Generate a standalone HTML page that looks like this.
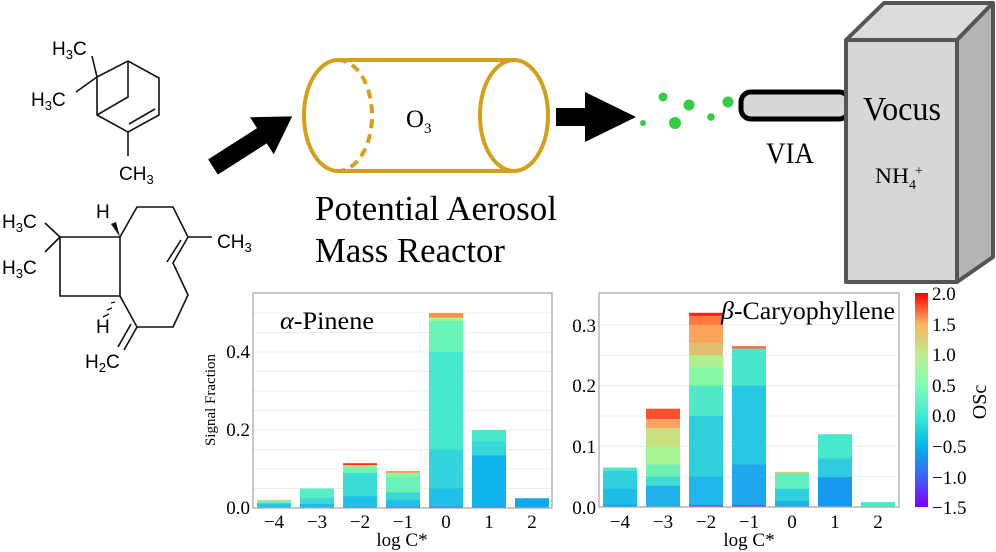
<!DOCTYPE html>
<html><head><meta charset="utf-8"><style>
html,body{margin:0;padding:0;background:#fff;width:996px;height:552px;overflow:hidden}
svg{display:block}
.m{font-family:"Liberation Sans",sans-serif;font-size:19px;fill:#000}
.t{font-family:"Liberation Serif",serif;fill:#000}
</style></head><body>
<svg width="996" height="552" viewBox="0 0 996 552" xmlns="http://www.w3.org/2000/svg">
<defs><linearGradient id="cb" x1="0" y1="1" x2="0" y2="0">
<stop offset="0" stop-color="#8000ff"/><stop offset="0.143" stop-color="#4062fa"/><stop offset="0.286" stop-color="#00b5eb"/>
<stop offset="0.429" stop-color="#40ecd4"/><stop offset="0.571" stop-color="#80ffb4"/><stop offset="0.714" stop-color="#c0eb8d"/>
<stop offset="0.857" stop-color="#ffb360"/><stop offset="1" stop-color="#ff0000"/></linearGradient></defs>
<g stroke="#111" stroke-width="1.6" fill="none">
<path d="M97,77 L128,61 L159,78 L159,115 L128,132 L97,115 Z"/>
<path d="M128,61 L128,97 L97,115"/>
<path d="M155,109 L129,124"/>
<path d="M128,132 L128,156"/>
<path d="M97,77 L92,56"/>
<path d="M97,77 L76,92"/>
</g>
<text class="m" x="52" y="55">H<tspan font-size="13" dy="4">3</tspan><tspan dy="-4">C</tspan></text>
<text class="m" x="31" y="106">H<tspan font-size="13" dy="4">3</tspan><tspan dy="-4">C</tspan></text>
<text class="m" x="119" y="180">CH<tspan font-size="13" dy="4">3</tspan></text>
<g stroke="#111" stroke-width="1.6" fill="none">
<path d="M60,237 L120,237 L120,296 L60,296 Z"/>
<path d="M60,237 L45,223 M60,237 L45,252"/>
<path d="M120,237 L137,207 L173,207 L188,237 L173,263 L188,295 L173,327 L137,327 L120,296"/>
<path d="M181,240 L167,262"/>
<path d="M188,237 L212,237"/>
<path d="M137,327 L124,350 M131,324 L118,347"/>
<path d="M115,302 L111,303 M112,308 L107,310 M109,314 L103,317" stroke-width="1.3"/>
</g>
<polygon points="120,237 111,224 116,222" fill="#111"/>
<text class="m" x="2" y="228">H<tspan font-size="13" dy="4">3</tspan><tspan dy="-4">C</tspan></text>
<text class="m" x="2" y="274">H<tspan font-size="13" dy="4">3</tspan><tspan dy="-4">C</tspan></text>
<text class="m" x="96" y="218">H</text>
<text class="m" x="96" y="333">H</text>
<text class="m" x="217" y="248">CH<tspan font-size="13" dy="4">3</tspan></text>
<text class="m" x="85" y="368">H<tspan font-size="13" dy="4">2</tspan><tspan dy="-4">C</tspan></text>
<g transform="translate(213,167) rotate(-32.6)">
<polygon points="0,-9 58,-9 58,-22 94,0 58,22 58,9 0,9" fill="#000"/>
</g>
<g stroke="#d4a017" stroke-width="4" fill="none">
<path d="M338,60 L514,60 M338,171 L514,171"/>
<path d="M338,60 A34,55.5 0 0 0 338,171"/>
<path d="M338,60 A34,55.5 0 0 1 338,171" stroke-dasharray="9,6"/>
<ellipse cx="514" cy="115.5" rx="34" ry="55.5"/>
</g>
<text class="t" x="406" y="127" font-size="25" textLength="18" lengthAdjust="spacingAndGlyphs">O</text>
<text class="t" x="424" y="133" font-size="15">3</text>
<text class="t" x="315" y="220" font-size="35" textLength="242" lengthAdjust="spacingAndGlyphs">Potential Aerosol</text>
<text class="t" x="315" y="262" font-size="35" textLength="190" lengthAdjust="spacingAndGlyphs">Mass Reactor</text>
<polygon points="556,108 585,108 585,92 636,117 585,142 585,126 556,126" fill="#000"/>
<g fill="#33cc44">
<circle cx="663" cy="97" r="4.5"/><circle cx="689" cy="105" r="5.5"/><circle cx="728" cy="102" r="5.5"/>
<circle cx="711" cy="117" r="3.8"/><circle cx="675" cy="123" r="6"/><circle cx="643" cy="123" r="3"/>
</g>
<rect x="741" y="92" width="108" height="27" rx="10" fill="#d8d8d8" stroke="#000" stroke-width="5"/>
<text class="t" x="766" y="163" font-size="30" textLength="48" lengthAdjust="spacingAndGlyphs">VIA</text>
<g stroke="#555" stroke-width="4" stroke-linejoin="round">
<polygon points="846,40 884,3 993,3 957,40" fill="#dcdcdc"/>
<polygon points="957,40 993,3 993,257 957,282" fill="#b5b5b5"/>
<rect x="846" y="40" width="111" height="242" fill="#d8d8d8"/>
</g>
<text class="t" x="863" y="120" font-size="34" textLength="78" lengthAdjust="spacingAndGlyphs">Vocus</text>
<text class="t" x="875" y="183" font-size="22" textLength="34" lengthAdjust="spacingAndGlyphs">NH</text>
<text class="t" x="909" y="189" font-size="14">4</text>
<text class="t" x="915" y="175" font-size="14">+</text>

<!-- LEFT CHART -->
<g stroke="#ececec" stroke-width="1">
<line x1="253" x2="552" y1="488.5" y2="488.5"/><line x1="253" x2="552" y1="469" y2="469"/><line x1="253" x2="552" y1="449.5" y2="449.5"/>
<line x1="253" x2="552" y1="430" y2="430"/><line x1="253" x2="552" y1="410.5" y2="410.5"/><line x1="253" x2="552" y1="391" y2="391"/>
<line x1="253" x2="552" y1="371.5" y2="371.5"/><line x1="253" x2="552" y1="352" y2="352"/><line x1="253" x2="552" y1="332.5" y2="332.5"/>
<line x1="253" x2="552" y1="313" y2="313"/>
</g>
<g>
<rect x="257" y="499.8" width="34" height="8.2" fill="#d4d88a"/>
<rect x="257" y="501" width="34" height="7" fill="#6af5b8"/>
<rect x="257" y="503.3" width="34" height="4.7" fill="#29c5e6"/>
<rect x="300" y="488.5" width="34" height="19.5" fill="#58eec4"/>
<rect x="300" y="498.2" width="34" height="9.8" fill="#3ad8dc"/>
<rect x="300" y="504.1" width="34" height="3.9" fill="#1fb8e8"/>
<rect x="343" y="463.2" width="34" height="44.8" fill="#ff3020"/>
<rect x="343" y="465.1" width="34" height="42.9" fill="#c0e890"/>
<rect x="343" y="467" width="34" height="41" fill="#70f6b0"/>
<rect x="343" y="472.9" width="34" height="35.1" fill="#3cdcd6"/>
<rect x="343" y="496.3" width="34" height="11.7" fill="#20c0ea"/>
<rect x="343" y="506.8" width="34" height="1.2" fill="#12a0f0"/>
<rect x="386" y="471" width="34" height="37" fill="#f0a060"/>
<rect x="386" y="472.9" width="34" height="35.1" fill="#8af8a0"/>
<rect x="386" y="476.8" width="34" height="31.2" fill="#6af2b8"/>
<rect x="386" y="492.4" width="34" height="15.6" fill="#38d8d8"/>
<rect x="386" y="500.2" width="34" height="7.8" fill="#20c0ea"/>
<rect x="386" y="506.8" width="34" height="1.2" fill="#5050f0"/>
<rect x="429" y="313" width="34" height="195" fill="#ff9050"/>
<rect x="429" y="317.7" width="34" height="190.3" fill="#a8f890"/>
<rect x="429" y="320.8" width="34" height="187.2" fill="#6af5b8"/>
<rect x="429" y="352" width="34" height="156" fill="#48e8cc"/>
<rect x="429" y="449.5" width="34" height="58.5" fill="#34d4dc"/>
<rect x="429" y="488.5" width="34" height="19.5" fill="#20c0ea"/>
<rect x="429" y="506.8" width="34" height="1.2" fill="#6040f0"/>
<rect x="472" y="430" width="34" height="78" fill="#4ae8ca"/>
<rect x="472" y="441.7" width="34" height="66.3" fill="#36d8da"/>
<rect x="472" y="455.4" width="34" height="52.6" fill="#10b4ec"/>
<rect x="472" y="506.8" width="34" height="1.2" fill="#4a60f0"/>
<rect x="515" y="498.2" width="34" height="9.8" fill="#12a8ee"/>
</g>
<rect x="253" y="293" width="299" height="215" fill="none" stroke="#aaa" stroke-width="1.3"/>
<g class="t" font-size="19" text-anchor="end">
<text x="250" y="514">0.0</text><text x="250" y="436">0.2</text><text x="250" y="358">0.4</text>
</g>
<g class="t" font-size="19" text-anchor="middle">
<text x="274" y="528">−4</text><text x="317" y="528">−3</text><text x="360" y="528">−2</text><text x="403" y="528">−1</text>
<text x="446" y="528">0</text><text x="489" y="528">1</text><text x="532" y="528">2</text>
</g>
<text class="t" x="402" y="546" font-size="19" text-anchor="middle">log C*</text>
<text class="t" x="280" y="329" font-size="25" textLength="94" lengthAdjust="spacingAndGlyphs"><tspan font-style="italic">α</tspan>-Pinene</text>
<text class="t" font-size="15" transform="translate(215,400) rotate(-90)" text-anchor="middle">Signal Fraction</text>

<!-- RIGHT CHART -->
<g stroke="#ececec" stroke-width="1">
<line x1="599" x2="899" y1="476.7" y2="476.7"/><line x1="599" x2="899" y1="446.3" y2="446.3"/><line x1="599" x2="899" y1="416" y2="416"/>
<line x1="599" x2="899" y1="385.6" y2="385.6"/><line x1="599" x2="899" y1="355.3" y2="355.3"/><line x1="599" x2="899" y1="324.9" y2="324.9"/>
</g>
<g>
<rect x="603" y="467.5" width="34" height="39.5" fill="#50eac8"/>
<rect x="603" y="470.6" width="34" height="36.4" fill="#30d0de"/>
<rect x="603" y="488.8" width="34" height="18.2" fill="#20bce8"/>
<rect x="603" y="505.2" width="34" height="1.8" fill="#1090f0"/>
<rect x="646" y="408.7" width="34" height="98.3" fill="#ff5030"/>
<rect x="646" y="419" width="34" height="88" fill="#ffa460"/>
<rect x="646" y="428.1" width="34" height="78.9" fill="#c8e080"/>
<rect x="646" y="446.3" width="34" height="60.7" fill="#a6f590"/>
<rect x="646" y="464.5" width="34" height="42.5" fill="#70f2b4"/>
<rect x="646" y="476.7" width="34" height="30.3" fill="#40dcd4"/>
<rect x="646" y="485.8" width="34" height="21.2" fill="#20b0ea"/>
<rect x="689" y="312.8" width="34" height="194.2" fill="#ff2010"/>
<rect x="689" y="315.8" width="34" height="191.2" fill="#ff7a40"/>
<rect x="689" y="324.9" width="34" height="182.1" fill="#ffa45c"/>
<rect x="689" y="343.1" width="34" height="163.9" fill="#e0c070"/>
<rect x="689" y="355.3" width="34" height="151.7" fill="#b0f090"/>
<rect x="689" y="367.4" width="34" height="139.6" fill="#88f8a4"/>
<rect x="689" y="385.6" width="34" height="121.4" fill="#50eac8"/>
<rect x="689" y="416" width="34" height="91" fill="#30d0de"/>
<rect x="689" y="476.7" width="34" height="30.3" fill="#20b8ea"/>
<rect x="689" y="505.2" width="34" height="1.8" fill="#7040f0"/>
<rect x="732" y="346.1" width="34" height="160.9" fill="#ff7040"/>
<rect x="732" y="348.6" width="34" height="158.4" fill="#4ae6cc"/>
<rect x="732" y="385.6" width="34" height="121.4" fill="#28c8e4"/>
<rect x="732" y="464.5" width="34" height="42.5" fill="#20a8ee"/>
<rect x="732" y="505.2" width="34" height="1.8" fill="#6040f0"/>
<rect x="775" y="471.8" width="34" height="35.2" fill="#d0d080"/>
<rect x="775" y="473.6" width="34" height="33.4" fill="#60f0c0"/>
<rect x="775" y="488.8" width="34" height="18.2" fill="#30d0de"/>
<rect x="775" y="500.9" width="34" height="6.1" fill="#20b0ea"/>
<rect x="818" y="434.2" width="34" height="72.8" fill="#48e8cc"/>
<rect x="818" y="458.4" width="34" height="48.6" fill="#30ccde"/>
<rect x="818" y="477.3" width="34" height="29.7" fill="#1898f0"/>
<rect x="861" y="502.1" width="34" height="4.9" fill="#4aeac8"/>
</g>
<rect x="599" y="293" width="300" height="214" fill="none" stroke="#aaa" stroke-width="1.3"/>
<g class="t" font-size="19" text-anchor="end">
<text x="596" y="514">0.0</text><text x="596" y="453">0.1</text><text x="596" y="392">0.2</text><text x="596" y="332">0.3</text>
</g>
<g class="t" font-size="19" text-anchor="middle">
<text x="620" y="528">−4</text><text x="663" y="528">−3</text><text x="706" y="528">−2</text><text x="749" y="528">−1</text>
<text x="792" y="528">0</text><text x="835" y="528">1</text><text x="878" y="528">2</text>
</g>
<text class="t" x="749" y="546" font-size="19" text-anchor="middle">log C*</text>
<text class="t" x="721" y="319" font-size="25" textLength="174" lengthAdjust="spacingAndGlyphs"><tspan font-style="italic">β</tspan>-Caryophyllene</text>
<rect x="915" y="293" width="13" height="214" fill="url(#cb)"/>
<g class="t" font-size="19">
<text x="932" y="300">2.0</text><text x="932" y="331">1.5</text><text x="932" y="361">1.0</text><text x="932" y="392">0.5</text>
<text x="932" y="422">0.0</text><text x="932" y="453">−0.5</text><text x="932" y="484">−1.0</text><text x="932" y="514">−1.5</text>
</g>
<text class="t" font-size="20" transform="translate(986,402) rotate(-90)" text-anchor="middle">OSc</text>
</svg>
</body></html>
